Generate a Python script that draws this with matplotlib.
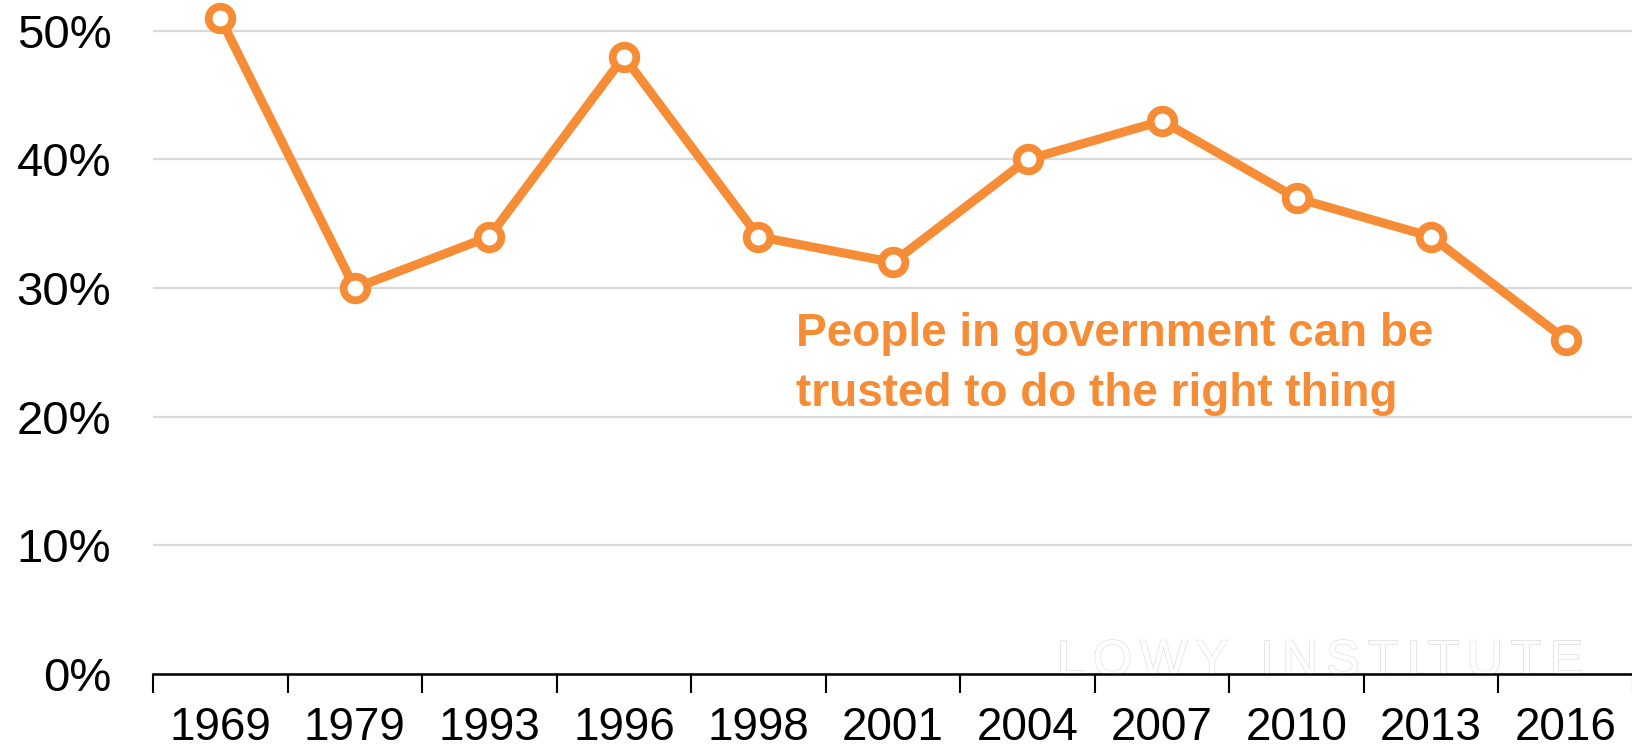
import matplotlib
matplotlib.use("Agg")
import matplotlib.pyplot as plt
import matplotlib.patheffects as pe
import numpy as np

# Survey years and share agreeing (%)
years = ["1969", "1979", "1993", "1996", "1998", "2001", "2004", "2007", "2010", "2013", "2016"]
trust = [51, 30, 34, 48, 34, 32, 40, 43, 37, 34, 26]
y_ticks = [0, 10, 20, 30, 40, 50]
y_tick_labels = ["0%", "10%", "20%", "30%", "40%", "50%"]
series_label = "People in government can be\ntrusted to do the right thing"
watermark = "LOWY INSTITUTE"

ORANGE = "#f68d36"

plt.rcParams["font.family"] = ["Liberation Sans", "DejaVu Sans"]

fig = plt.figure(figsize=(16.33, 7.5), dpi=100)
ax = fig.add_axes([153 / 1633, 1 - 674 / 750, 1 - 153 / 1633, 674 / 750])

x = np.arange(len(years))
ax.plot(x, trust, color=ORANGE, lw=6.5, marker="o", ms=17,
        mfc="white", mec=ORANGE, mew=5.6, zorder=5, clip_on=False)

ax.set_xlim(-0.5, len(years) - 0.5)
ax.set_ylim(0, 52.4)

# Gridlines
ax.set_yticks(y_ticks)
ax.set_yticklabels(y_tick_labels, fontsize=34)
ax.yaxis.grid(True, color="#d9d9d9", lw=1.6)
ax.set_axisbelow(True)
ax.tick_params(axis="y", length=0, pad=30)

# Category boundaries as major ticks, labels at category centres
ax.set_xticks(np.arange(-0.5, len(years), 1.0))
ax.set_xticklabels([])
ax.set_xticks(x, minor=True)
ax.set_xticklabels(years, minor=True, fontsize=33)
ax.tick_params(axis="x", which="major", length=14, width=1.5, direction="out", color="black")
ax.tick_params(axis="x", which="minor", length=0, pad=23)

for side in ["left", "right", "top"]:
    ax.spines[side].set_visible(False)
ax.spines["bottom"].set_linewidth(1.8)
ax.spines["bottom"].set_zorder(3)

ax.text(4.28, 24.1, series_label, color=ORANGE, fontsize=33, fontweight="bold",
        ha="left", va="center", linespacing=1.45, zorder=6)

# Faint outlined watermark with wide letter spacing, laid out character by character,
# kept beneath the axis line
renderer = fig.canvas.get_renderer()
wm_left, wm_right, wm_y = 1057, 1583, 750 - 662   # pixel positions
wm_size = 36
stroke = [pe.withStroke(linewidth=1.3, foreground="#e3e3e3"), pe.Normal()]
widths = []
for ch in watermark:
    t = fig.text(0, 0, ch if ch != " " else "n", fontsize=wm_size)
    widths.append(t.get_window_extent(renderer).width * (0.55 if ch == " " else 1.0))
    t.remove()
tracking = (wm_right - wm_left - sum(widths)) / (len(watermark) - 1)
xpos = wm_left
for ch, w in zip(watermark, widths):
    if ch != " ":
        t = ax.text(xpos / 1633, wm_y / 750, ch, transform=fig.transFigure,
                    fontsize=wm_size, color="white", ha="left", va="center",
                    zorder=1, clip_on=False)
        t.set_path_effects(stroke)
    xpos += w + tracking

fig.savefig("out.png", dpi=100, facecolor="white")
